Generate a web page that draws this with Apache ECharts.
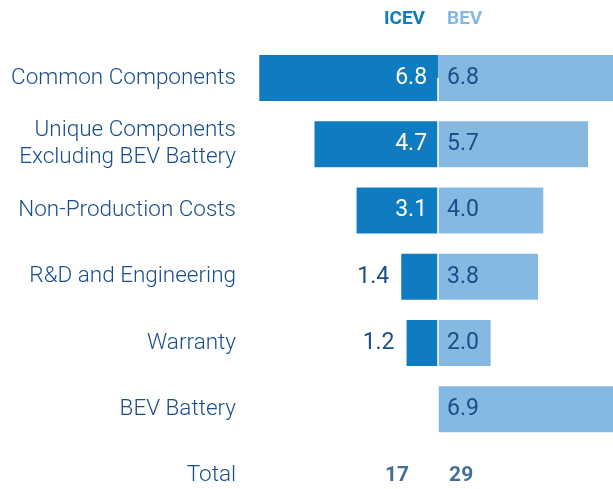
<!DOCTYPE html>
<html>
<head>
<meta charset="utf-8">
<script src="https://cdn.jsdelivr.net/npm/echarts@6/dist/echarts.min.js"></script>
<style>
  html, body { margin: 0; padding: 0; background: #fff; }
  #chart { width: 613px; height: 489px; }
</style>
</head>
<body>
<div id="chart"></div>
<script>
// categories, top to bottom
const categories = [
  'Common Components',
  'Unique Components\nExcluding BEV Battery',
  'Non-Production Costs',
  'R&D and Engineering',
  'Warranty',
  'BEV Battery',
  'Total'
]
const icevValues = [6.8, 4.7, 3.1, 1.4, 1.2, null, null]
const bevValues = [6.8, 5.7, 4.0, 3.8, 2.0, 6.9, null]
const totals = { icev: 17, bev: 29 }

const ICEV_COLOR = '#0f7cc1'
const BEV_COLOR = '#86b9e1'
const TEXT_COLOR = '#1a4e8b'
const FONT = 'Roboto, "Helvetica Neue", Arial, sans-serif'

const chart = echarts.init(document.getElementById('chart'))

// ICEV bars go left, so negate; small ones get their label outside
const icevData = icevValues.map(v => {
  if (v == null) return null
  const small = v < 2
  return {
    value: -v,
    label: small
      ? { position: 'left', distance: 12, color: TEXT_COLOR }
      : { position: 'insideRight', distance: 11, color: '#fff' }
  }
})

const option = {
  animation: false,
  // category ticks sit on the edges (boundaryGap false): first row at top, Total at bottom
  grid: { left: 254, right: 0, top: 78, bottom: 12, containLabel: false },
  xAxis: {
    type: 'value',
    min: -7,
    max: 6.65,
    show: false
  },
  yAxis: {
    type: 'category',
    data: categories,
    inverse: true,
    boundaryGap: false,
    axisLine: { show: false },
    axisTick: { show: false },
    splitLine: { show: false },
    axisLabel: {
      margin: 18,
      color: TEXT_COLOR,
      fontFamily: FONT,
      fontSize: 22.5,
      fontWeight: 300,
      lineHeight: 27,
      align: 'right'
    }
  },
  graphic: [
    { type: 'text', right: 613 - 425, top: 10, style: { text: 'ICEV', fill: ICEV_COLOR, font: 'bold 19px ' + FONT, textAlign: 'right' } },
    { type: 'text', left: 447, top: 10, style: { text: 'BEV', fill: BEV_COLOR, font: 'bold 19px ' + FONT } }
  ],
  series: [
    {
      name: 'ICEV',
      type: 'bar',
      stack: 'cost',
      barWidth: 46,
      itemStyle: { color: ICEV_COLOR },
      label: {
        show: true,
        fontFamily: FONT,
        fontSize: 23,
        formatter: p => Math.abs(p.value).toFixed(1)
      },
      data: icevData
    },
    {
      name: 'BEV',
      type: 'bar',
      stack: 'cost',
      barWidth: 46,
      itemStyle: { color: BEV_COLOR },
      label: {
        show: true,
        position: 'insideLeft',
        distance: 9,
        color: TEXT_COLOR,
        fontFamily: FONT,
        fontSize: 23,
        formatter: p => p.value.toFixed(1)
      },
      markLine: {
        silent: true,
        symbol: 'none',
        label: { show: false },
        lineStyle: { color: '#fff', width: 1.5, type: 'solid' },
        data: [{ xAxis: 0 }]
      },
      data: bevValues
    },
    {
      name: 'Totals',
      type: 'scatter',
      symbolSize: 0,
      silent: true,
      label: {
        show: true,
        fontFamily: FONT,
        fontSize: 21,
        fontWeight: 'bold',
        color: '#154883'
      },
      data: [
        { value: [0, 'Total'], label: { position: 'left', distance: 29, formatter: String(totals.icev) } },
        { value: [0, 'Total'], label: { position: 'right', distance: 11, formatter: String(totals.bev) } }
      ]
    }
  ]
}

chart.setOption(option)
</script>
</body>
</html>
